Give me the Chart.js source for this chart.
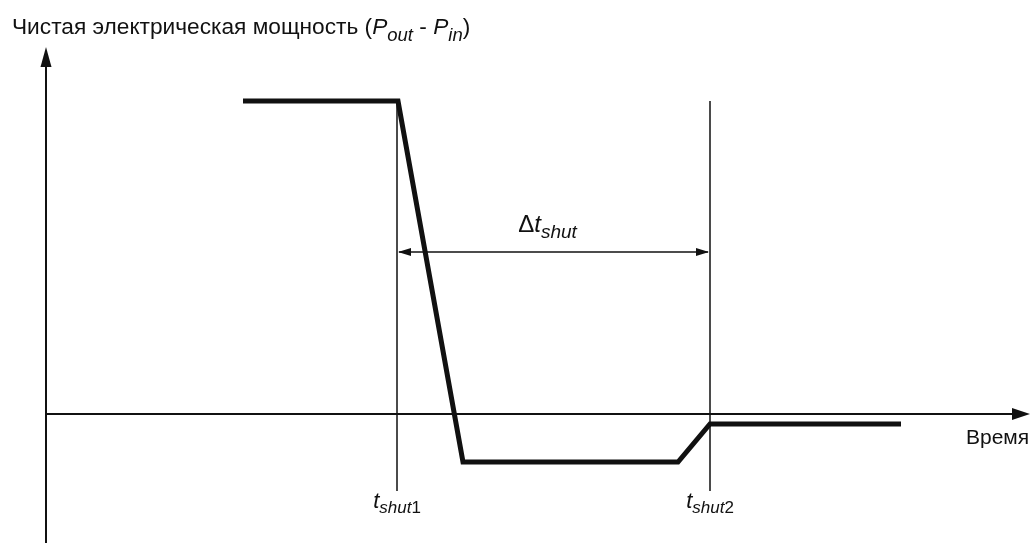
<!DOCTYPE html>
<html>
<head>
<meta charset="utf-8">
<script src="https://cdn.jsdelivr.net/npm/chart.js@4"></script>
<style>
  html, body { margin: 0; padding: 0; background: #fff; }
  #c { display: block; }
</style>
</head>
<body>
<canvas id="c" width="1034" height="543"></canvas>
<script>
// schematic values, in arbitrary time / power units (axis crossing = 0,0)
const timePts = [19.7, 35.2, 41.7, 63.2, 66.4, 85.5];
const powerPts = [31.3, 31.3, -4.8, -4.8, -1.0, -1.0];
const shutTimes = [35.1, 66.4];          // t_shut1, t_shut2
const shutLabels = ['1', '2'];
const markerSpan = [31.3, -7.7];          // vertical marker lines top / bottom
const deltaLevel = 16.2;                  // level of the Δt_shut dimension arrow
const xAxisEnd = 98.4;
const yAxisSpan = [-12.9, 36.7];

const FONT = '"Liberation Sans", Arial, sans-serif';
const INK = '#111';

const curve = timePts.map((t, i) => ({ x: t, y: powerPts[i] }));
const markers = shutTimes.map(t => ({
  data: [{ x: t, y: markerSpan[0] }, { x: t, y: markerSpan[1] }],
  borderColor: INK, borderWidth: 1.5, pointRadius: 0
}));

// draw a run of text pieces, some italic, some lowered as subscripts
function rich(ctx, runs, x, y, size, subSize, drop, align) {
  const fontOf = r => (r.italic ? 'italic ' : '') + (r.sub ? subSize : size) + 'px ' + FONT;
  let w = 0;
  runs.forEach(r => { ctx.font = fontOf(r); w += ctx.measureText(r.text).width; });
  let cx = align === 'center' ? x - w / 2 : x;
  runs.forEach(r => {
    ctx.font = fontOf(r);
    ctx.fillText(r.text, cx, y + (r.sub ? drop : 0));
    cx += ctx.measureText(r.text).width;
  });
}

function head(ctx, x, y, dx, dy, len, half) {
  // arrowhead pointing along (dx, dy) with tip at x,y
  const px = -dy, py = dx;
  ctx.beginPath();
  ctx.moveTo(x, y);
  ctx.lineTo(x - dx * len + px * half, y - dy * len + py * half);
  ctx.lineTo(x - dx * len - px * half, y - dy * len - py * half);
  ctx.closePath();
  ctx.fill();
}

const sketch = {
  id: 'sketch',
  afterDatasetsDraw(chart) {
    const { ctx, scales: { x, y } } = chart;
    ctx.save();
    ctx.fillStyle = INK;
    ctx.strokeStyle = INK;

    // axis arrowheads
    head(ctx, x.getPixelForValue(0), y.getPixelForValue(yAxisSpan[1]), 0, -1, 20, 5.5);
    head(ctx, x.getPixelForValue(xAxisEnd), y.getPixelForValue(0), 1, 0, 18, 6);

    // Δt_shut dimension line
    const ya = y.getPixelForValue(deltaLevel);
    const x1 = x.getPixelForValue(shutTimes[0]), x2 = x.getPixelForValue(shutTimes[1]);
    ctx.lineWidth = 1.5;
    ctx.beginPath();
    ctx.moveTo(x1 + 2, ya);
    ctx.lineTo(x2 - 2, ya);
    ctx.stroke();
    head(ctx, x1 + 1, ya, -1, 0, 13, 4);
    head(ctx, x2 - 1, ya, 1, 0, 13, 4);

    ctx.textBaseline = 'alphabetic';
    rich(ctx, [
      { text: 'Чистая электрическая мощность (' },
      { text: 'P', italic: true }, { text: 'out', italic: true, sub: true },
      { text: ' - ' },
      { text: 'P', italic: true }, { text: 'in', italic: true, sub: true },
      { text: ')' }
    ], 12, 34, 22.7, 18.5, 7);

    rich(ctx, [{ text: 'Δ' }, { text: 't', italic: true }, { text: 'shut', italic: true, sub: true }],
      (x1 + x2) / 2 - 6, ya - 20, 24, 19, 6, 'center');

    shutTimes.forEach((t, i) => {
      rich(ctx, [{ text: 't', italic: true }, { text: 'shut', italic: true, sub: true }, { text: shutLabels[i], sub: true }],
        x.getPixelForValue(t), y.getPixelForValue(markerSpan[1]) + 17, 22, 17, 5, 'center');
    });

    ctx.font = '21px ' + FONT;
    ctx.fillText('Время', 966, 444);
    ctx.restore();
  }
};

new Chart(document.getElementById('c'), {
  type: 'line',
  data: {
    datasets: [
      { data: [{ x: 0, y: yAxisSpan[0] }, { x: 0, y: yAxisSpan[1] - 1.5 }], borderColor: INK, borderWidth: 2, pointRadius: 0 },
      { data: [{ x: 0, y: 0 }, { x: xAxisEnd - 1.5, y: 0 }], borderColor: INK, borderWidth: 2, pointRadius: 0 },
      ...markers,
      { data: curve, borderColor: INK, borderWidth: 5, pointRadius: 0, tension: 0,
        borderJoinStyle: 'miter', borderCapStyle: 'butt' }
    ]
  },
  options: {
    responsive: false,
    devicePixelRatio: 1,
    animation: false,
    layout: { padding: 0 },
    plugins: { legend: { display: false }, tooltip: { enabled: false } },
    scales: {
      x: { type: 'linear', min: -4.6, max: 98.8, display: false },
      y: { type: 'linear', min: -12.9, max: 41.4, display: false }
    }
  },
  plugins: [sketch]
});
</script>
</body>
</html>
